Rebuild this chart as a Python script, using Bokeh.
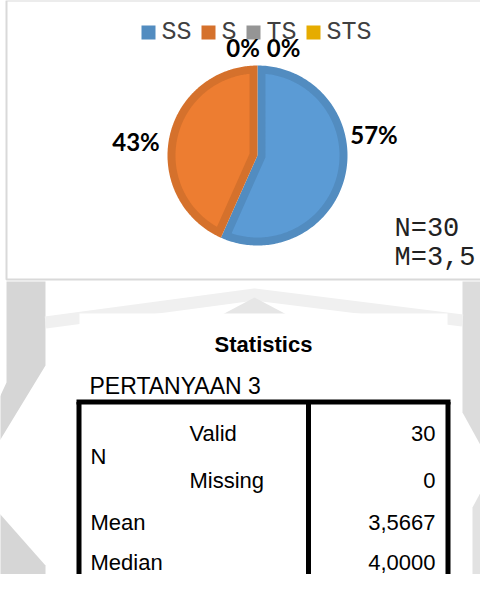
import numpy as np
from bokeh.plotting import figure
from bokeh.models import Range1d
from bokeh.core.properties import value
from bokeh.embed import file_html
from bokeh.resources import INLINE

# ---------------- data ----------------
categories = ["SS", "S", "TS", "STS"]
counts = [17, 13, 0, 0]
pct_labels = ["57%", "43%", "0%", "0%"]
note_lines = ["N=30", "M=3,5"]

table_title = "Statistics"
table_variable = "PERTANYAAN 3"
stat_group = ["N", "Mean", "Median"]
stat_sub = ["Valid", "Missing"]
stat_values = ["30", "0", "3,5667", "4,0000"]

# ---------------- styles / layout ----------------
fill_colors = ["#5b9bd5", "#ed7d31", "#a5a5a5", "#ffc000"]
edge_colors = ["#528cc0", "#d5712c", "#959595", "#e6ac00"]

H = 590  # page pixel rows; data y = H - pixel row


def Y(v):
    return H - np.asarray(v, dtype=float)


p = figure(width=480, height=574, output_backend="svg", toolbar_location=None,
           x_range=Range1d(8, 488), y_range=Range1d(H - 582, H - 8),
           min_border=0)
p.axis.visible = False
p.grid.visible = False
p.outline_line_color = None
p.background_fill_color = "white"
p.border_fill_color = "white"

# --- faint watermark background ---
wm_dark = "#d6d6d6"
p.patch(x=[14, 53, 53, 0, 0, 14], y=Y([289, 289, 373, 460, 420, 390]).tolist(),
        fill_color=wm_dark, line_color=None)
p.patch(x=[0, 53, 53, 0], y=Y([513, 573, 590, 590]).tolist(),
        fill_color=wm_dark, line_color=None)
p.patch(x=[470, 496, 496, 470], y=Y([289, 289, 467, 420]).tolist(),
        fill_color="#dcdcdc", line_color=None)
p.patch(x=[496, 480, 480, 496], y=Y([485, 515, 590, 590]).tolist(),
        fill_color="#e2e2e2", line_color=None)
p.line(x=[53, 262, 470], y=Y([330, 302, 328]).tolist(), line_color="#f0f0f0",
       line_width=12)
p.patch(x=[228, 262, 296], y=Y([323, 305, 323]).tolist(), fill_color="#e6e6e6",
        line_color=None)

# --- chart box (white panel with light grey border on left/top/bottom) ---
p.quad(left=14, right=600, top=Y(8), bottom=Y(287), fill_color="white",
       line_color=None)
p.multi_line(xs=[[600, 14, 14, 600]], ys=[Y([8, 8, 287, 287]).tolist()],
             line_color="#d9d9d9", line_width=2)

# --- pie ---
cx, cy, R, band = 265.0, 163.0, 90.0, 8.0
total = float(sum(counts))
fr = np.array(counts, dtype=float) / total
ends = np.cumsum(fr) * 2 * np.pi
starts = ends - fr * 2 * np.pi


def pt(theta, r, ox=cx, oy=cy):
    # theta measured clockwise from 12 o'clock
    return ox + r * np.sin(theta), H - (oy - r * np.cos(theta))


outer_xs, outer_ys, inner_xs, inner_ys, oc, ic = [], [], [], [], [], []
for a0, a1, fc, ec in zip(starts, ends, fill_colors, edge_colors):
    if a1 - a0 <= 1e-9:
        continue
    th = np.linspace(a0, a1, 200)
    ax, ay = pt(th, R)
    outer_xs.append([cx] + list(ax))
    outer_ys.append([H - cy] + list(ay))
    oc.append(ec)
    half = (a1 - a0) / 2
    d_ang = np.arcsin(band / (R - band))
    th2 = np.linspace(a0 + d_ang, a1 - d_ang, 200)
    bx, by = pt(th2, R - band)
    apx, apy = pt(a0 + half, band / np.sin(half))
    inner_xs.append([apx] + list(bx))
    inner_ys.append([apy] + list(by))
    ic.append(fc)

p.patches(xs=outer_xs, ys=outer_ys, fill_color=oc, line_color=None)
p.patches(xs=inner_xs, ys=inner_ys, fill_color=ic, line_color=None)

# --- legend (manual) ---
leg_x0, leg_y, sq, gap1, gap2, adv = 149.0, 40.0, 14.0, 6.0, 10.0, 15.0
sq_x, txt_x = [], []
x = leg_x0
for c in categories:
    sq_x.append(x + sq / 2)
    txt_x.append(x + sq + gap1)
    x = x + sq + gap1 + len(c) * adv + gap2
p.rect(x=sq_x, y=[H - leg_y] * 4, width=sq, height=sq, fill_color=edge_colors,
       line_color=None)
p.text(x=txt_x, y=[H - leg_y] * 4, text=categories, text_font=value("Liberation Mono"),
       text_font_size="25px", text_color="#404040", text_baseline="middle",
       text_align="left")

# --- percentage labels ---
lab_x = [381.5, 143.5, 291.0, 250.5]
lab_y = [142.0, 149.0, 55.0, 55.0]
p.text(x=lab_x, y=Y(lab_y).tolist(), text=pct_labels, text_font=value("Lato"),
       text_font_style="bold", text_font_size="24px", text_color="#000000",
       text_baseline="middle", text_align="center")

# --- N / M note ---
p.text(x=[402, 402], y=Y([236, 265]).tolist(), text=note_lines,
       text_font=value("Liberation Mono"), text_font_size="27px",
       text_color="#222222", text_baseline="middle", text_align="left")

# --- statistics table ---
p.quad(left=87, right=455, top=Y(321), bottom=Y(600), fill_color="white",
       line_color=None)
p.text(x=[271], y=Y([352]).tolist(), text=[table_title],
       text_font=value("Liberation Sans"), text_font_style="bold",
       text_font_size="22px", text_color="#000000", text_baseline="middle",
       text_align="center")
p.text(x=[97], y=Y([393]).tolist(), text=[table_variable],
       text_font=value("Liberation Sans"), text_font_size="23px",
       text_color="#000000", text_baseline="middle", text_align="left")

top_y = 409.5
p.multi_line(xs=[[86.5, 86.5], [455.5, 455.5], [84, 458], [316, 316]],
             ys=[Y([top_y, 600]).tolist(), Y([top_y, 600]).tolist(),
                 Y([top_y, top_y]).tolist(), Y([top_y, 600]).tolist()],
             line_color="black", line_width=5)

tfont = dict(text_font=value("Liberation Sans"), text_font_size="22px",
             text_color="#000000", text_baseline="middle")
p.text(x=[98, 98, 98], y=Y([464, 530, 570]).tolist(), text=stat_group,
       text_align="left", **tfont)
p.text(x=[197, 197], y=Y([441, 488]).tolist(), text=stat_sub,
       text_align="left", **tfont)
p.text(x=[443] * 4, y=Y([441, 488, 530, 570]).tolist(), text=stat_values,
       text_align="right", **tfont)

open("out.html", "w").write(file_html(p, INLINE))
